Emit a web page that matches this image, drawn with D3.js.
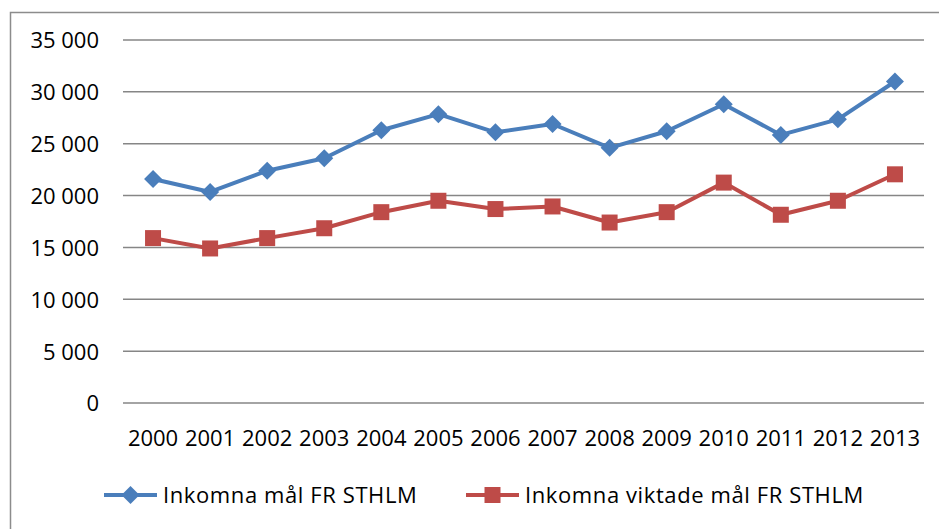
<!DOCTYPE html>
<html>
<head>
<meta charset="utf-8">
<script src="https://cdn.jsdelivr.net/npm/d3@7"></script>
<style>
  body { margin: 0; background: #fff; }
  text { font-family: "Open Sans", Lato, sans-serif; fill: #000; }
</style>
</head>
<body>
<script>
// 年 (カテゴリ)
var years = ["2000", "2001", "2002", "2003", "2004", "2005", "2006",
             "2007", "2008", "2009", "2010", "2011", "2012", "2013"];
// 系列名
var seriesNames = ["Inkomna mål FR STHLM", "Inkomna viktade mål FR STHLM"];
// 系列の値
var inkomna = [21600, 20350, 22400, 23600, 26300, 27850, 26100,
               26900, 24600, 26200, 28800, 25850, 27350, 31000];
var viktade = [15900, 14900, 15900, 16850, 18400, 19500, 18700,
               18950, 17400, 18400, 21250, 18150, 19500, 22050];
// y軸目盛
var yTicks = [0, 5000, 10000, 15000, 20000, 25000, 30000, 35000];

var W = 939, H = 529;
var colors = ["#4a7ebb", "#be4b48"];
var fontSize = "22px";

var svg = d3.select("body").append("svg")
  .attr("width", W)
  .attr("height", H);

// 枠線
svg.append("path")
  .attr("d", "M10.5," + H + " V12.5 H" + W)
  .attr("fill", "none")
  .attr("stroke", "#8c8c8c")
  .attr("stroke-width", 1.5);

var x = d3.scaleBand()
  .domain(years)
  .range([124.5, 923.5]);

var y = d3.scaleLinear()
  .domain([0, 35000])
  .range([403, 40]);

// 千の区切りはスペース
var fmt = function(v) { return d3.format(",")(v).replace(/,/g, " "); };

// グリッド線
svg.append("g")
  .selectAll("line")
  .data(yTicks)
  .enter().append("line")
  .attr("x1", 123)
  .attr("x2", 924)
  .attr("y1", function(d) { return y(d); })
  .attr("y2", function(d) { return y(d); })
  .attr("stroke", "#868686")
  .attr("stroke-width", 1.5);

// y軸ラベル
var yAxis = d3.axisLeft(y).tickValues(yTicks).tickFormat(fmt).tickSize(0).tickPadding(0);
var gy = svg.append("g").attr("transform", "translate(99,0)").call(yAxis);
gy.select(".domain").remove();
gy.selectAll("text")
  .style("font-family", "'Open Sans', sans-serif")
  .style("font-size", fontSize)
  .attr("fill", "#000")
  .attr("dy", "0.36em");

// x軸ラベル
var xAxis = d3.axisBottom(x).tickSize(0).tickPadding(0);
var gx = svg.append("g").attr("transform", "translate(0,430)").call(xAxis);
gx.select(".domain").remove();
gx.selectAll("text")
  .style("font-family", "'Open Sans', sans-serif")
  .style("font-size", fontSize)
  .attr("fill", "#000")
  .attr("dy", "0.72em");

var line = d3.line()
  .x(function(d, i) { return x(years[i]) + x.bandwidth() / 2; })
  .y(function(d) { return y(d); });

var diamond = "M0,-9 L9,0 L0,9 L-9,0 Z";
var square = "M-8,-8 H8 V8 H-8 Z";

function drawSeries(vals, color, shape) {
  var g = svg.append("g");
  g.append("path")
    .datum(vals)
    .attr("d", line)
    .attr("fill", "none")
    .attr("stroke", color)
    .attr("stroke-width", 4)
    .attr("stroke-linejoin", "round");
  g.selectAll(".m")
    .data(vals)
    .enter().append("path")
    .attr("class", "m")
    .attr("d", shape)
    .attr("fill", color)
    .attr("transform", function(d, i) {
      return "translate(" + (x(years[i]) + x.bandwidth() / 2) + "," + y(d) + ")";
    });
}

drawSeries(viktade, colors[1], square);
drawSeries(inkomna, colors[0], diamond);

// 凡例
var legendX = [104, 466];
var shapes = [diamond, square];
seriesNames.forEach(function(name, i) {
  var g = svg.append("g").attr("transform", "translate(" + legendX[i] + ",495)");
  g.append("line")
    .attr("x1", 0).attr("x2", 53)
    .attr("stroke", colors[i])
    .attr("stroke-width", 4);
  g.append("path")
    .attr("d", shapes[i])
    .attr("fill", colors[i])
    .attr("transform", "translate(26.5,0)");
  g.append("text")
    .attr("x", 59)
    .attr("dy", "0.36em")
    .style("font-size", fontSize)
    .style("letter-spacing", "0.6px")
    .text(name);
});
</script>
</body>
</html>
